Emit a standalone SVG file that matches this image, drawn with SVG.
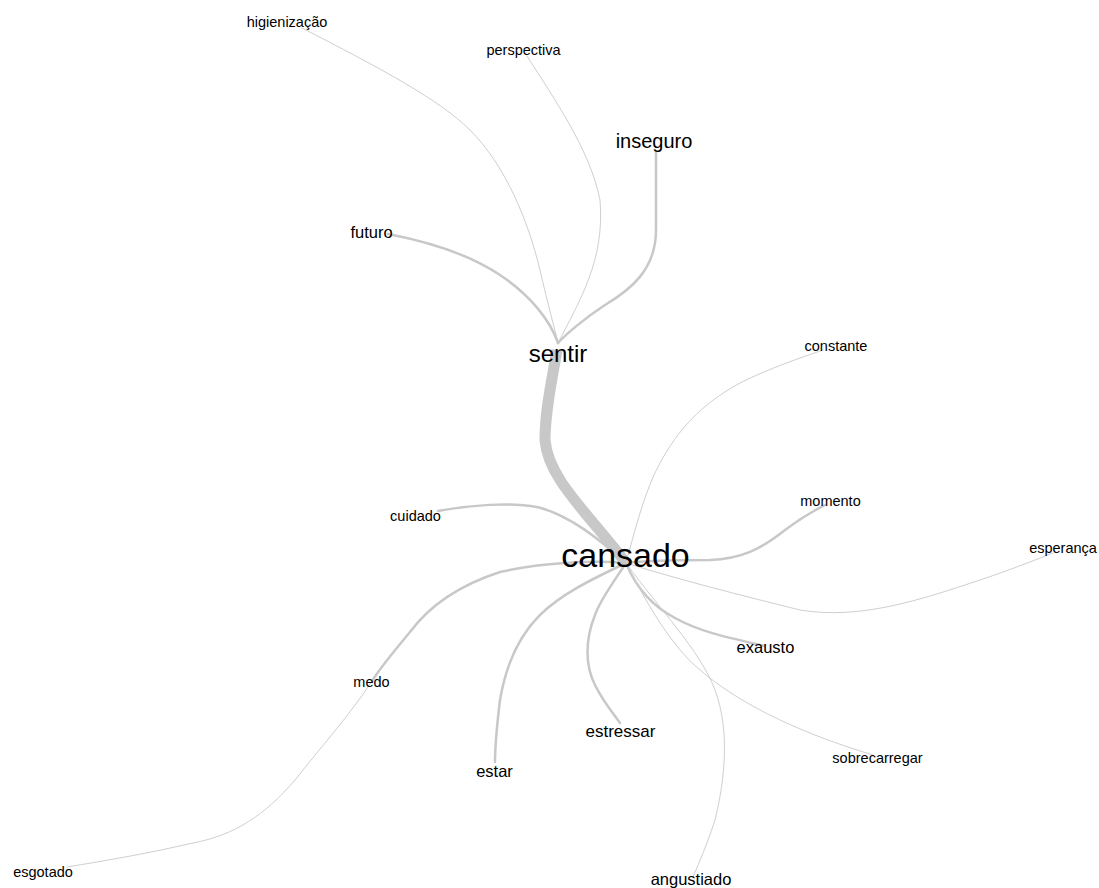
<svg xmlns="http://www.w3.org/2000/svg" width="1099" height="888" viewBox="0 0 1099 888">
<style>
.e{fill:none;stroke:#c8c8c8;stroke-linecap:round}
.thin{stroke-width:1;stroke:#cfcfcf}
.mid{stroke-width:2.5}
.big{stroke-width:11;stroke-linecap:butt}
text{font-family:"Liberation Sans",Arial,sans-serif;fill:#000000;text-anchor:middle}
.s{font-size:14.5px}
.m{font-size:16.5px}
</style>
<rect width="1099" height="888" fill="#ffffff"/>
<g id="connectors">
<path class="e thin" d="M302,28 C380,68 440,100 470,130 C505,165 528,220 540,270 C548,305 555,330 558,343"/>
<path class="e thin" d="M527,56 C555,100 590,150 600,200 C605,260 580,300 558,343"/>
<path class="e mid" d="M656,152 L656,230 C656,270 630,290 605,305 C585,318 565,335 558,343"/>
<path class="e mid" d="M388,234 C430,242 470,255 500,275 C530,295 550,320 558,343"/>
<path class="e big" d="M557,350 C552,380 545,410 545,440 C548,478 585,510 626,563"/>
<path class="e mid" d="M626,563 C600,540 570,515 537,507 C510,502 470,505 438,511"/>
<path class="e mid" d="M626,563 C590,560 540,563 500,572 C460,585 430,605 410,632 C395,650 380,668 372,681"/>
<path class="e thin" d="M372,681 C350,715 320,748 295,780 C265,815 235,835 193,843 C150,853 110,860 67,867"/>
<path class="e mid" d="M626,563 C590,580 560,595 540,615 C515,640 505,670 500,700 C497,725 495,745 495,762"/>
<path class="e mid" d="M626,563 C615,580 600,600 595,615 C585,640 585,665 595,685 C605,705 615,715 620,723"/>
<path class="e mid" d="M626,563 C635,585 650,605 675,618 C700,632 730,638 765,646"/>
<path class="e thin" d="M626,563 C645,600 670,645 700,670 C735,700 790,730 873,755"/>
<path class="e thin" d="M626,563 C660,610 700,650 715,690 C730,730 725,780 715,820 C705,850 698,865 693,877"/>
<path class="e mid" d="M626,563 C650,560 680,560 710,560 C740,559 760,550 785,530 C805,515 815,510 825,505"/>
<path class="e thin" d="M626,563 C680,580 740,595 800,610 C860,620 920,600 980,580 C1010,570 1035,560 1053,553"/>
<path class="e thin" d="M626,563 C635,530 645,490 660,463 C678,430 700,405 740,383 C770,368 800,358 823,350"/>
</g>
<g id="node-higienizacao"><text class="s" x="287" y="27">higienização</text></g>
<g id="node-perspectiva"><text class="s" x="523.5" y="55">perspectiva</text></g>
<g id="node-inseguro"><text x="654" y="148" font-size="20">inseguro</text></g>
<g id="node-futuro"><text class="m" x="371.5" y="238">futuro</text></g>
<g id="node-sentir"><text x="558" y="362" font-size="24">sentir</text></g>
<g id="node-cansado"><text x="625.5" y="567" font-size="34">cansado</text></g>
<g id="node-cuidado"><text class="s" x="415.5" y="521">cuidado</text></g>
<g id="node-medo"><text class="s" x="371.5" y="687">medo</text></g>
<g id="node-esgotado"><text class="s" x="43" y="877">esgotado</text></g>
<g id="node-estar"><text class="m" x="494.5" y="777">estar</text></g>
<g id="node-estressar"><text x="620.5" y="737" font-size="17">estressar</text></g>
<g id="node-exausto"><text class="m" x="765.5" y="653">exausto</text></g>
<g id="node-constante"><text class="s" x="836" y="351">constante</text></g>
<g id="node-momento"><text class="s" x="830.5" y="506">momento</text></g>
<g id="node-esperanca"><text class="s" x="1063" y="553">esperança</text></g>
<g id="node-sobrecarregar"><text class="s" x="877.5" y="763">sobrecarregar</text></g>
<g id="node-angustiado"><text class="m" x="691" y="885">angustiado</text></g>
</svg>
